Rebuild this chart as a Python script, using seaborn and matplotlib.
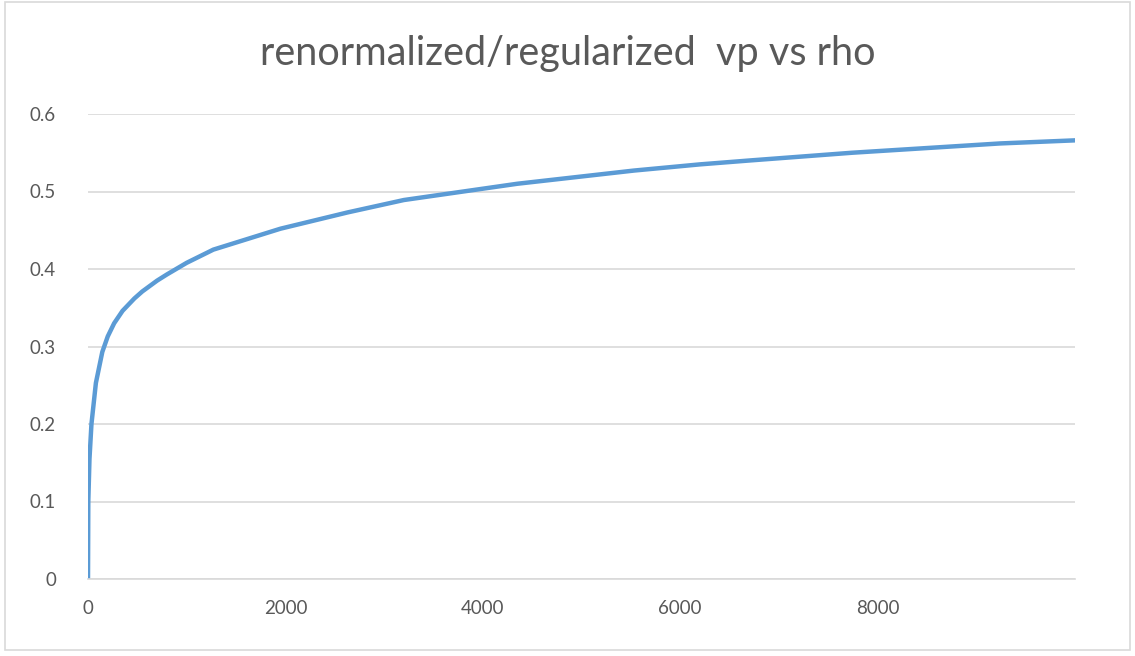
import pandas as pd
import numpy as np
import seaborn as sns
import matplotlib.pyplot as plt
from matplotlib.patches import Rectangle

# values
rho = [0, 3, 15, 35, 80, 145, 200, 265, 350, 470, 550, 700, 800, 1000, 1270,
       1950, 2630, 3200, 4350, 5530, 6200, 6700, 7740, 9240, 10000]
vp = [0.0, 0.10, 0.155, 0.20, 0.253, 0.293, 0.313, 0.330, 0.346, 0.362,
      0.371, 0.385, 0.393, 0.408, 0.425, 0.452, 0.473, 0.489, 0.510, 0.527,
      0.535, 0.540, 0.550, 0.562, 0.566]
x_ticks = [0, 2000, 4000, 6000, 8000]
y_ticks = [0, 0.1, 0.2, 0.3, 0.4, 0.5, 0.6]
title = "renormalized/regularized  vp vs rho"

sns.set_theme(style="white")
plt.rcParams['font.family'] = ['Lato', 'DejaVu Sans']

df = pd.DataFrame({'rho': rho, 'vp': vp})

W, H = 1135, 656
fig = plt.figure(figsize=(W / 100, H / 100), dpi=100)
ax = fig.add_axes([88 / W, 1 - 579 / H, (1075 - 88) / W, (579 - 114) / H])

sns.lineplot(data=df, x='rho', y='vp', ax=ax, color='#5b9bd5', linewidth=3.2)

ax.set_xlim(0, 10000)
ax.set_ylim(0, 0.6)
ax.set_xticks(x_ticks)
ax.set_xticklabels([str(t) for t in x_ticks])
ax.set_yticks(y_ticks)
ax.set_yticklabels(['0' if t == 0 else f'{t:.1f}' for t in y_ticks])
ax.set_xlabel('')
ax.set_ylabel('')

ax.yaxis.grid(True, color='#d9d9d9', linewidth=1.2)
ax.set_axisbelow(True)
for side in ['top', 'right', 'left']:
    ax.spines[side].set_visible(False)
ax.spines['bottom'].set_color('#d9d9d9')
ax.spines['bottom'].set_linewidth(1.2)
ax.tick_params(axis='both', length=0, labelsize=13.5, colors='#595959')
ax.tick_params(axis='x', pad=15)
ax.tick_params(axis='y', pad=23)

fig.text(0.5, 1 - 53 / H, title, ha='center', va='center',
         fontsize=28.5, color='#595959')

# light frame around the chart area, like the spreadsheet chart box
fig.patches.append(Rectangle((5 / W, 1 - 650 / H), (1130 - 5) / W, (650 - 2) / H,
                             transform=fig.transFigure, fill=False,
                             edgecolor='#d9d9d9', linewidth=1.2))

fig.savefig('out.png', dpi=100, facecolor='white')
